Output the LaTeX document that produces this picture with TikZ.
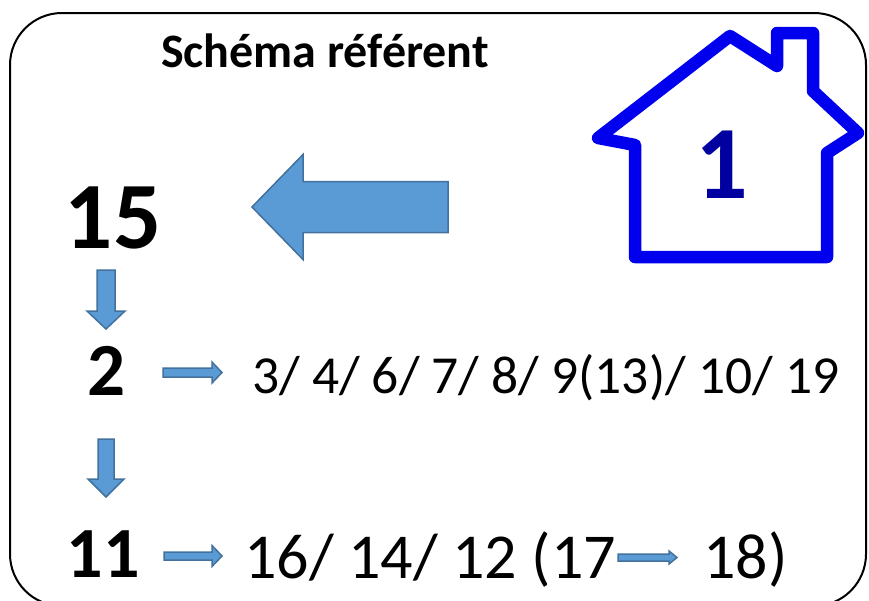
\documentclass[tikz,border=0pt]{standalone}
\usepackage{fontspec}
\setmainfont{Carlito}
\usetikzlibrary{calc}

\definecolor{arrowblue}{HTML}{5B9BD5}
\definecolor{arrowedge}{HTML}{41719C}
\definecolor{houseblue}{RGB}{0,0,238}
\definecolor{housenum}{RGB}{0,0,160}

\tikzset{
	bluearrow/.style={fill=arrowblue, draw=arrowedge, line width=1.5pt, line join=miter},
	num/.style={inner sep=0pt, anchor=base},
}

% tail, tip, half shaft, half head, head length
\newcommand{\blockarr}[5]{%
	\path ($(#2)!#5pt!(#1)$) coordinate (ba);
	\filldraw[bluearrow] ($(#1)!#3pt!90:(#2)$) -- ($(ba)!#3pt!90:(#2)$) -- ($(ba)!#4pt!90:(#2)$) -- (#2)
		-- ($(ba)!#4pt!-90:(#2)$) -- ($(ba)!#3pt!-90:(#2)$) -- ($(#1)!#3pt!-90:(#2)$) -- cycle;
}

\begin{document}
\begin{tikzpicture}[x=1pt, y=-1pt]
		\useasboundingbox (0,0) rectangle (869,600);
		\clip (0,0) rectangle (869,600);
		\draw[line width=2pt, rounded corners=52pt] (10,13) rectangle (866,606);
		\node[num, font=\bfseries\fontsize{48}{50}\selectfont] (title) at (325,67) {Schéma référent};
		\draw[houseblue, line width=12.5pt, line join=round] (635,257) -- (635,145) -- (598,138) -- (730,36) -- (777,66)
			-- (777,33) -- (813,33) -- (813,91) -- (858,133) -- (827,153) -- (827,257) -- cycle;
		\node[num, text=housenum, font=\bfseries\fontsize{104}{110}\selectfont] (one) at (722,198) {1};
		\node[num, font=\bfseries\fontsize{95}{100}\selectfont] (fifteen) at (113,248) {15};
		\node[num, font=\bfseries\fontsize{75}{80}\selectfont] (two) at (107,395) {2};
		\node[num, font=\bfseries\fontsize{72}{76}\selectfont] (eleven) at (103,577) {11};
		\node[num, anchor=base west, font=\fontsize{53.5}{56}\selectfont] (rowtwo) at (252,393) {3/ 4/ 6/ 7/ 8/ 9(13)/ 10/ 19};
		\node[num, anchor=base west, font=\fontsize{64}{68}\selectfont] (rowthree) at (244,578) {16/ 14/ 12 (17};
		\node[num, anchor=base west, font=\fontsize{64}{68}\selectfont] (eighteen) at (703,578) {18)};
		\coordinate (bigtail) at (448,207);
		\coordinate (bigtip) at (252,207);
		\coordinate (downatail) at (106,270);
		\coordinate (downatip) at (106,329);
		\coordinate (downbtail) at (106,439);
		\coordinate (downbtip) at (106,497);
		\coordinate (rightatail) at (163,372.5);
		\coordinate (rightatip) at (222,372.5);
		\coordinate (rightbtail) at (164,556);
		\coordinate (rightbtip) at (222,556);
		\coordinate (smalltail) at (618,557.5);
		\coordinate (smalltip) at (677,557.5);
		\blockarr{bigtail}{bigtip}{25.5}{52.5}{51}
		\blockarr{downatail}{downatip}{9}{19}{18}
		\blockarr{downbtail}{downbtip}{8}{18}{18}
		\blockarr{rightatail}{rightatip}{4.5}{10.5}{10}
		\blockarr{rightbtail}{rightbtip}{4}{10.5}{10}
		\blockarr{smalltail}{smalltip}{3.5}{6.5}{8}
	\end{tikzpicture}
\end{document}
